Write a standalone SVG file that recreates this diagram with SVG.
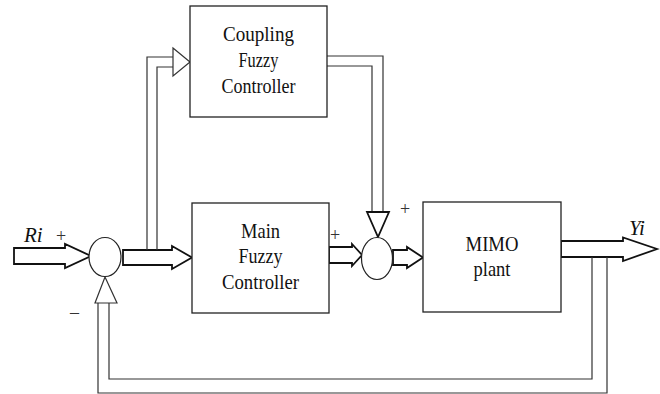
<svg xmlns="http://www.w3.org/2000/svg" width="660" height="394" viewBox="0 0 660 394">
  <style>
    .box { fill: #fff; stroke: #222; stroke-width: 1.3; }
    .sum { fill: #fff; stroke: #222; stroke-width: 1.2; }
    .label { font-family: "Liberation Serif", "Times New Roman", serif; font-size: 21px; fill: #111; text-anchor: middle; }
    .sig { font-family: "Liberation Serif", "Times New Roman", serif; font-size: 21px; font-style: italic; fill: #111; }
    .sign { font-family: "Liberation Serif", "Times New Roman", serif; font-size: 18px; fill: #333; }
    .fat { fill: #fff; stroke: #111; stroke-width: 1.8; stroke-linejoin: miter; }
    .thin { fill: none; stroke: #333; stroke-width: 1.2; }
    .tri { fill: #fff; stroke: #333; stroke-width: 1.2; }
  </style>

  <!-- connectors: hollow signal arrows and double-line feedback paths -->
  <g id="connectors">
    <!-- Ri input into first summing junction -->
    <polygon class="fat" points="14,248 65,248 65,244 91,256 65,268 65,264 14,264"/>
    <!-- junction 1 to main controller -->
    <polygon class="fat" points="123,250 172,250 172,246 192,257.5 172,269 172,265 123,265"/>
    <!-- branch up to coupling controller -->
    <polyline class="thin" points="147,250 147,57 173,57"/>
    <polyline class="thin" points="157,250 157,67 173,67"/>
    <polygon class="tri" points="173,48 190,62 173,76"/>
    <!-- coupling controller down into second junction -->
    <polyline class="thin" points="327,56 383,56 383,212"/>
    <polyline class="thin" points="327,66 372,66 372,212"/>
    <polygon class="fat" points="367,212 389,212 378,237"/>
    <!-- main controller to second junction -->
    <polygon class="fat" points="329,247 352,247 352,244 362,255 352,266 352,263 329,263"/>
    <!-- second junction to plant -->
    <polygon class="fat" points="393,250 407,250 407,247 423,257.5 407,268 407,265 393,265"/>
    <!-- plant output Yi -->
    <polygon class="fat" points="561,241 623,241 623,237.5 657,249 623,261 623,257 561,257"/>
    <!-- feedback loop back to first junction -->
    <polyline class="thin" points="592,257 592,379 109,379 109,303"/>
    <polyline class="thin" points="607,257 607,393 98,393 98,303"/>
    <polygon class="tri" points="95,303 117,303 105,277"/>
  </g>

  <g id="sum1">
    <ellipse class="sum" cx="105" cy="257" rx="16" ry="19.5"/>
  </g>

  <g id="sum2">
    <ellipse class="sum" cx="377" cy="258.5" rx="15.5" ry="21"/>
  </g>

  <g id="coupling-controller">
    <rect class="box" x="190" y="6" width="137" height="111"/>
    <text class="label" x="258.5" y="41" textLength="71" lengthAdjust="spacingAndGlyphs">Coupling</text>
    <text class="label" x="258.5" y="67" textLength="40" lengthAdjust="spacingAndGlyphs">Fuzzy</text>
    <text class="label" x="258.5" y="93" textLength="74" lengthAdjust="spacingAndGlyphs">Controller</text>
  </g>

  <g id="main-controller">
    <rect class="box" x="192" y="203" width="137" height="110"/>
    <text class="label" x="260.5" y="238" textLength="39" lengthAdjust="spacingAndGlyphs">Main</text>
    <text class="label" x="260.5" y="263" textLength="44" lengthAdjust="spacingAndGlyphs">Fuzzy</text>
    <text class="label" x="260.5" y="289" textLength="77" lengthAdjust="spacingAndGlyphs">Controller</text>
  </g>

  <g id="mimo-plant">
    <rect class="box" x="423" y="202" width="138" height="110"/>
    <text class="label" x="492" y="251" textLength="53" lengthAdjust="spacingAndGlyphs">MIMO</text>
    <text class="label" x="492" y="276" textLength="37" lengthAdjust="spacingAndGlyphs">plant</text>
  </g>

  <g id="labels">
    <text class="sig" x="24" y="242">Ri</text>
    <text class="sig" x="629" y="235">Yi</text>
    <text class="sign" x="56" y="242">+</text>
    <text class="sign" x="70" y="318">–</text>
    <text class="sign" x="330" y="241">+</text>
    <text class="sign" x="400" y="215">+</text>
  </g>
</svg>
